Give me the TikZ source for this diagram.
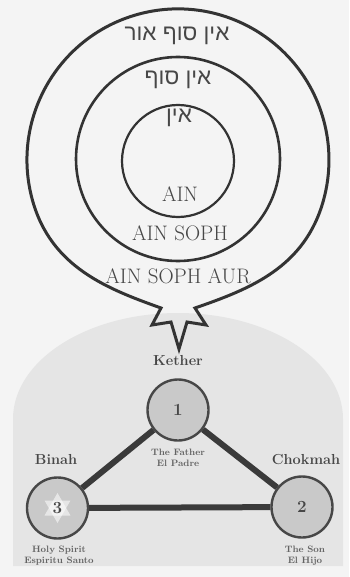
\documentclass[tikz,border=0pt]{standalone}
\usepackage{fontspec}
\newfontfamily\hebfont[Script=Hebrew]{Liberation Sans}
\TeXXeTstate=1
\usetikzlibrary{shapes.geometric,calc}
\definecolor{bgc}{HTML}{F4F4F4}
\definecolor{panelc}{HTML}{E5E5E5}
\definecolor{ringc}{HTML}{333333}
\definecolor{txtc}{HTML}{474747}
\definecolor{sephfill}{HTML}{C9C9C9}
\definecolor{sephline}{HTML}{474747}
\definecolor{pathc}{HTML}{3A3A3A}
\tikzset{
  ring/.style={draw=ringc},
  hebtxt/.style={text=txtc, inner sep=0pt, font=\hebfont\fontsize{22.5}{26}\selectfont},
  entxt/.style={text=txtc, inner sep=0pt, font=\fontsize{21}{24}\selectfont},
  sephlabel/.style={text=txtc, inner sep=0pt, font=\bfseries\fontsize{14.5}{17}\selectfont},
  subtxt/.style={text=txtc!85!white, inner sep=0pt, align=center, font=\bfseries\fontsize{9.3}{11}\selectfont},
  seph/.style={circle, draw=sephline, line width=2.4pt, fill=sephfill, minimum size=61pt, inner sep=0pt, text=txtc, font=\bfseries\fontsize{17}{19}\selectfont},
  conn/.style={draw=pathc, line width=6pt}
}
\begin{document}
\begin{tikzpicture}[x=1pt,y=-1pt]
\fill[bgc] (0,0) rectangle (349,577);
\useasboundingbox (0,0) rectangle (349,577);
% grey panel
\fill[panelc] (13,566) -- (13,419) arc[start angle=180,end angle=360,x radius=165,y radius=106] -- (343,566) -- cycle;
% outer ring with star
\draw[ring, line width=3pt, line join=miter, miter limit=30]
  (161,308) .. controls (108,289) and (51,267.5) .. (32.4,200)
  arc[start angle=164.6, end angle=375.4, radius=151]
  .. controls (305,267.5) and (250,289) .. (195,308)
  -- (206,325) -- (187,322) -- (179,349) -- (171,322) -- (152,325) -- cycle;
\draw[ring, line width=2.6pt] (178,159) circle[radius=102];
\draw[ring, line width=2.2pt] (178,161) circle[radius=56];
% texts
\node[hebtxt] (h1) at (177,36) {\beginR אין סוף אור\endR};
\node[hebtxt] (h2) at (178,80) {\beginR אין סוף\endR};
\node[hebtxt] (h3) at (179,118) {\beginR אין\endR};
\node[entxt] (e1) at (180,194) {AIN};
\node[entxt] (e2) at (180,233.5) {AIN SOPH};
\node[entxt] (e3) at (178,276.5) {AIN SOPH AUR};
% sephiroth
\node[seph] (k1) at (178,410) {1};
\node[seph] (c2) at (302,507) {2};
\node[seph] (b3) at (57.5,508) {};
\fill[white, opacity=0.55] ($(b3)+(270:15)$) -- ($(b3)+(30:15)$) -- ($(b3)+(150:15)$) -- cycle;
\fill[white, opacity=0.55] ($(b3)+(90:15)$) -- ($(b3)+(210:15)$) -- ($(b3)+(330:15)$) -- cycle;
\node[text=txtc, inner sep=0pt, font=\bfseries\fontsize{17}{19}\selectfont] (n3) at (b3) {3};
\draw[conn] (k1) -- (b3);
\draw[conn] (k1) -- (c2);
\draw[conn] (b3) -- (c2);
\node[sephlabel] (lk) at (178,361) {Kether};
\node[sephlabel] (lb) at (56,460) {Binah};
\node[sephlabel] (lc) at (306,460) {Chokmah};
\node[subtxt] (sk) at (178,457.5) {The Father\\El Padre};
\node[subtxt] (sb) at (59,556) {Holy Spirit\\Espiritu Santo};
\node[subtxt] (sc) at (305,556) {The Son\\El Hijo};
\end{tikzpicture}
\end{document}
